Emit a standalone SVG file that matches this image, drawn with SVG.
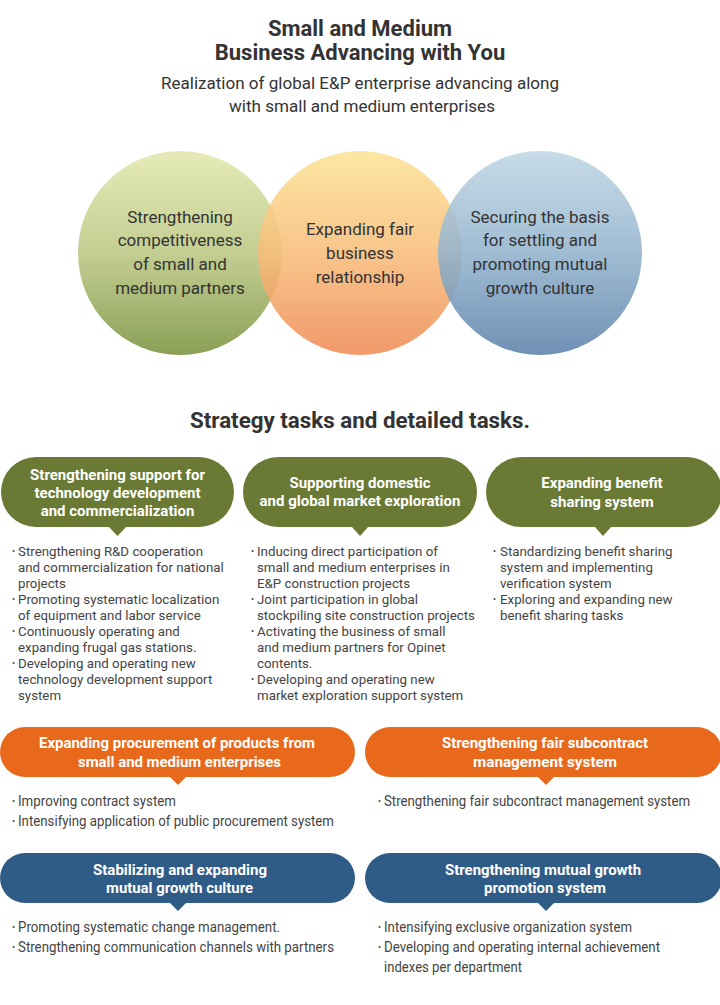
<svg xmlns="http://www.w3.org/2000/svg" width="720" height="1005" viewBox="0 0 720 1005">
<style>
text{font-family:Roboto,"Liberation Sans",sans-serif}
.t1{font-size:22px;font-weight:bold;fill:#333;text-anchor:middle}
.sub{font-size:17px;fill:#333;text-anchor:middle}
.ct{font-size:17px;fill:#333;text-anchor:middle}
.bt{font-size:15px;font-weight:bold;fill:#fff;text-anchor:middle}
.li{font-size:13.3px;fill:#444}
.li2{font-size:14px;fill:#444}
.b{font-size:9px}
.g{fill:#6a7a34}
.o{fill:#e8691b}
.bl{fill:#2f5b87}
</style>
<defs>
<linearGradient id="gg" x1="0" y1="0" x2="0" y2="1"><stop offset="0" stop-color="#e6ebb7"/><stop offset="0.5" stop-color="#c3ce92"/><stop offset="1" stop-color="#8ba056"/></linearGradient>
<linearGradient id="go" x1="0" y1="0" x2="0" y2="1"><stop offset="0" stop-color="#fde396"/><stop offset="0.5" stop-color="#f7bd7a"/><stop offset="1" stop-color="#ee8b55"/></linearGradient>
<linearGradient id="gb" x1="0" y1="0" x2="0" y2="1"><stop offset="0" stop-color="#c0d7e5"/><stop offset="0.5" stop-color="#93b3cd"/><stop offset="1" stop-color="#5c82aa"/></linearGradient>
</defs>

<g id="header">
<text class="t1" x="360" y="36">Small and Medium</text>
<text class="t1" x="360" y="60">Business Advancing with You</text>
<text class="sub" x="360" y="89" textLength="398" lengthAdjust="spacingAndGlyphs">Realization of global E&amp;P enterprise advancing along</text>
<text class="sub" x="362" y="112" textLength="266" lengthAdjust="spacingAndGlyphs">with small and medium enterprises</text>
</g>

<g id="circle-green">
<circle cx="180" cy="253" r="102" fill="url(#gg)"/>
<text class="ct" x="180" y="223">Strengthening</text>
<text class="ct" x="180" y="246">competitiveness</text>
<text class="ct" x="180" y="270">of small and</text>
<text class="ct" x="180" y="294">medium partners</text>
</g>
<g id="circle-orange">
<circle cx="360" cy="253" r="102" fill="url(#go)" fill-opacity="0.88"/>
<text class="ct" x="360" y="235">Expanding fair</text>
<text class="ct" x="360" y="259">business</text>
<text class="ct" x="360" y="283">relationship</text>
</g>
<g id="circle-blue">
<circle cx="540" cy="253" r="102" fill="url(#gb)" fill-opacity="0.88"/>
<text class="ct" x="540" y="223">Securing the basis</text>
<text class="ct" x="540" y="246">for settling and</text>
<text class="ct" x="540" y="270">promoting mutual</text>
<text class="ct" x="540" y="294">growth culture</text>
</g>

<g id="section-title">
<text class="t1" x="360" y="428" textLength="340" lengthAdjust="spacingAndGlyphs">Strategy tasks and detailed tasks.</text>
</g>

<g id="task1">
<rect class="g" x="1" y="457" width="233" height="70" rx="35"/>
<polygon class="g" points="108,526 127,526 117.5,536"/>
<text class="bt" x="117.5" y="480">Strengthening support for</text>
<text class="bt" x="117.5" y="498">technology development</text>
<text class="bt" x="117.5" y="516">and commercialization</text>
<text class="li" x="12" y="556"><tspan class="b" dy="-2">•</tspan><tspan x="18" dy="2">Strengthening R&amp;D cooperation</tspan></text>
<text class="li" x="18" y="572">and commercialization for national</text>
<text class="li" x="18" y="588">projects</text>
<text class="li" x="12" y="604"><tspan class="b" dy="-2">•</tspan><tspan x="18" dy="2">Promoting systematic localization</tspan></text>
<text class="li" x="18" y="620">of equipment and labor service</text>
<text class="li" x="12" y="636"><tspan class="b" dy="-2">•</tspan><tspan x="18" dy="2">Continuously operating and</tspan></text>
<text class="li" x="18" y="652">expanding frugal gas stations.</text>
<text class="li" x="12" y="668"><tspan class="b" dy="-2">•</tspan><tspan x="18" dy="2">Developing and operating new</tspan></text>
<text class="li" x="18" y="684">technology development support</text>
<text class="li" x="18" y="700">system</text>
</g>

<g id="task2">
<rect class="g" x="243" y="457" width="234" height="70" rx="35"/>
<polygon class="g" points="351,526 369,526 360,536"/>
<text class="bt" x="360" y="488">Supporting domestic</text>
<text class="bt" x="360" y="506">and global market exploration</text>
<text class="li" x="251" y="556"><tspan class="b" dy="-2">•</tspan><tspan x="257" dy="2">Inducing direct participation of</tspan></text>
<text class="li" x="257" y="572">small and medium enterprises in</text>
<text class="li" x="257" y="588">E&amp;P construction projects</text>
<text class="li" x="251" y="604"><tspan class="b" dy="-2">•</tspan><tspan x="257" dy="2">Joint participation in global</tspan></text>
<text class="li" x="257" y="620">stockpiling site construction projects</text>
<text class="li" x="251" y="636"><tspan class="b" dy="-2">•</tspan><tspan x="257" dy="2">Activating the business of small</tspan></text>
<text class="li" x="257" y="652">and medium partners for Opinet</text>
<text class="li" x="257" y="668">contents.</text>
<text class="li" x="251" y="684"><tspan class="b" dy="-2">•</tspan><tspan x="257" dy="2">Developing and operating new</tspan></text>
<text class="li" x="257" y="700">market exploration support system</text>
</g>

<g id="task3">
<rect class="g" x="486" y="457" width="236" height="70" rx="35"/>
<polygon class="g" points="594,526 612,526 603,536"/>
<text class="bt" x="602" y="488">Expanding benefit</text>
<text class="bt" x="602" y="507">sharing system</text>
<text class="li" x="493" y="556"><tspan class="b" dy="-2">•</tspan><tspan x="500" dy="2">Standardizing benefit sharing</tspan></text>
<text class="li" x="500" y="572">system and implementing</text>
<text class="li" x="500" y="588">verification system</text>
<text class="li" x="493" y="604"><tspan class="b" dy="-2">•</tspan><tspan x="500" dy="2">Exploring and expanding new</tspan></text>
<text class="li" x="500" y="620">benefit sharing tasks</text>
</g>

<g id="task4">
<rect class="o" x="0" y="727" width="355" height="50" rx="25"/>
<polygon class="o" points="169,776 187,776 178,785"/>
<text class="bt" x="177" y="748" textLength="276" lengthAdjust="spacingAndGlyphs">Expanding procurement of products from</text>
<text class="bt" x="179.5" y="767" textLength="203" lengthAdjust="spacingAndGlyphs">small and medium enterprises</text>
<text class="li2" x="12" y="806"><tspan class="b" dy="-2">•</tspan><tspan x="18" dy="2" textLength="158" lengthAdjust="spacingAndGlyphs">Improving contract system</tspan></text>
<text class="li2" x="12" y="826"><tspan class="b" dy="-2">•</tspan><tspan x="18" dy="2" textLength="316" lengthAdjust="spacingAndGlyphs">Intensifying application of public procurement system</tspan></text>
</g>

<g id="task5">
<rect class="o" x="365" y="727" width="357" height="50" rx="25"/>
<polygon class="o" points="537,776 555,776 546,785"/>
<text class="bt" x="545" y="748" textLength="206" lengthAdjust="spacingAndGlyphs">Strengthening fair subcontract</text>
<text class="bt" x="545" y="767" textLength="144" lengthAdjust="spacingAndGlyphs">management system</text>
<text class="li2" x="378" y="806"><tspan class="b" dy="-2">•</tspan><tspan x="384" dy="2" textLength="306" lengthAdjust="spacingAndGlyphs">Strengthening fair subcontract management system</tspan></text>
</g>

<g id="task6">
<rect class="bl" x="0" y="853" width="355" height="50" rx="25"/>
<polygon class="bl" points="169,902 187,902 178,911"/>
<text class="bt" x="180" y="875" textLength="174" lengthAdjust="spacingAndGlyphs">Stabilizing and expanding</text>
<text class="bt" x="179.5" y="893" textLength="147" lengthAdjust="spacingAndGlyphs">mutual growth culture</text>
<text class="li2" x="12" y="932"><tspan class="b" dy="-2">•</tspan><tspan x="18" dy="2" textLength="262" lengthAdjust="spacingAndGlyphs">Promoting systematic change management.</tspan></text>
<text class="li2" x="12" y="952"><tspan class="b" dy="-2">•</tspan><tspan x="18" dy="2" textLength="316" lengthAdjust="spacingAndGlyphs">Strengthening communication channels with partners</tspan></text>
</g>

<g id="task7">
<rect class="bl" x="365" y="853" width="357" height="50" rx="25"/>
<polygon class="bl" points="537,902 555,902 546,911"/>
<text class="bt" x="543" y="875" textLength="196" lengthAdjust="spacingAndGlyphs">Strengthening mutual growth</text>
<text class="bt" x="545" y="893" textLength="122" lengthAdjust="spacingAndGlyphs">promotion system</text>
<text class="li2" x="378" y="932"><tspan class="b" dy="-2">•</tspan><tspan x="384" dy="2" textLength="248" lengthAdjust="spacingAndGlyphs">Intensifying exclusive organization system</tspan></text>
<text class="li2" x="378" y="952"><tspan class="b" dy="-2">•</tspan><tspan x="384" dy="2" textLength="276" lengthAdjust="spacingAndGlyphs">Developing and operating internal achievement</tspan></text>
<text class="li2" x="384" y="972" textLength="138" lengthAdjust="spacingAndGlyphs">indexes per department</text>
</g>

<g id="connectors"></g>
</svg>
